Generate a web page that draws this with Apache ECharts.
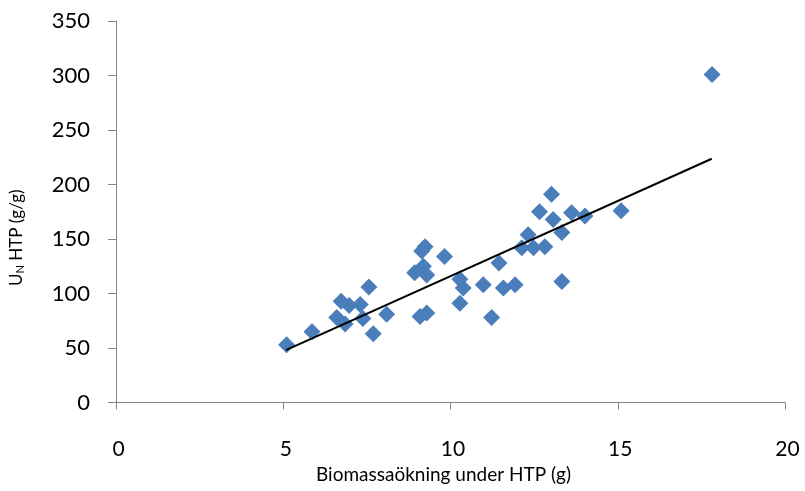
<!DOCTYPE html>
<html>
<head>
<meta charset="utf-8">
<script src="https://cdn.jsdelivr.net/npm/echarts@6/dist/echarts.min.js"></script>
<style>html,body{margin:0;padding:0;background:#fff}#c{width:805px;height:491px}</style>
</head>
<body>
<div id="c"></div>
<script>
var xValues = [5.10, 5.86, 6.73, 6.97, 7.30, 6.60, 6.85, 7.38, 7.56, 8.09, 7.69,
  9.09, 9.29, 8.93, 9.29, 9.19, 9.24, 9.14, 9.82, 10.28, 10.38, 10.28, 10.98,
  11.23, 11.45, 11.58, 11.93, 12.13, 12.32, 12.48, 12.66, 12.82, 13.02, 13.07,
  13.33, 13.33, 13.62, 14.02, 15.10, 17.82];
var yValues = [53, 65, 93, 89, 90, 78, 72, 77, 106, 81, 63,
  79, 82, 119, 117, 125, 143, 139, 134, 113, 105, 91, 108,
  78, 128, 105, 108, 142, 154, 142, 175, 143, 191, 168,
  156, 111, 174, 171, 176, 301];
var trendX = [5.08, 17.81];
var trendY = [48, 223.6];
var xTicks = [0, 5, 10, 15, 20];
var yTicks = [0, 50, 100, 150, 200, 250, 300, 350];

var font = 'Lato, "Open Sans", sans-serif';
var points = xValues.map(function (x, i) { return [x, yValues[i]]; });
var trend = trendX.map(function (x, i) { return [x, trendY[i]]; });

var chart = echarts.init(document.getElementById('c'), null, {renderer: 'canvas'});
chart.setOption({
  animation: false,
  backgroundColor: '#ffffff',
  grid: {left: 116, right: 20, top: 21, bottom: 88.5, containLabel: false},
  xAxis: {
    type: 'value', min: xTicks[0], max: xTicks[xTicks.length - 1], interval: 5,
    name: 'Biomassaökning under HTP (g)', nameLocation: 'middle', nameGap: 63,
    nameTextStyle: {fontFamily: font, fontSize: 19, color: '#000', padding: [0, 14, 0, 0]},
    axisLine: {show: true, lineStyle: {color: '#868686', width: 1}},
    axisTick: {show: true, length: 7, lineStyle: {color: '#868686'}},
    axisLabel: {margin: 36, fontFamily: font, fontSize: 21, color: '#000', padding: [0, 0, 0, 5]},
    splitLine: {show: false}
  },
  yAxis: {
    type: 'value', min: yTicks[0], max: yTicks[yTicks.length - 1], interval: 50,
    name: '{a|U}{s|N}{a| HTP (g/g)}', nameLocation: 'middle', nameGap: 90, nameRotate: 90,
    nameTextStyle: {
      fontFamily: font, color: '#000', padding: [0, 52, 0, 0],
      rich: {
        a: {fontFamily: font, fontSize: 17, color: '#000'},
        s: {fontFamily: font, fontSize: 11, color: '#000', padding: [8, 0, 0, 0]}
      }
    },
    axisLine: {show: true, lineStyle: {color: '#868686', width: 1}},
    axisTick: {show: true, length: 8, lineStyle: {color: '#868686'}},
    axisLabel: {margin: 26, fontFamily: font, fontSize: 22, color: '#000'},
    splitLine: {show: false}
  },
  series: [
    {
      type: 'scatter', data: points, symbol: 'diamond', symbolSize: 17,
      itemStyle: {color: '#4A7EBB', opacity: 1}, z: 2
    },
    {
      type: 'line', data: trend, showSymbol: false, symbol: 'none',
      lineStyle: {color: '#000', width: 2}, z: 3
    }
  ]
});
</script>
</body>
</html>
